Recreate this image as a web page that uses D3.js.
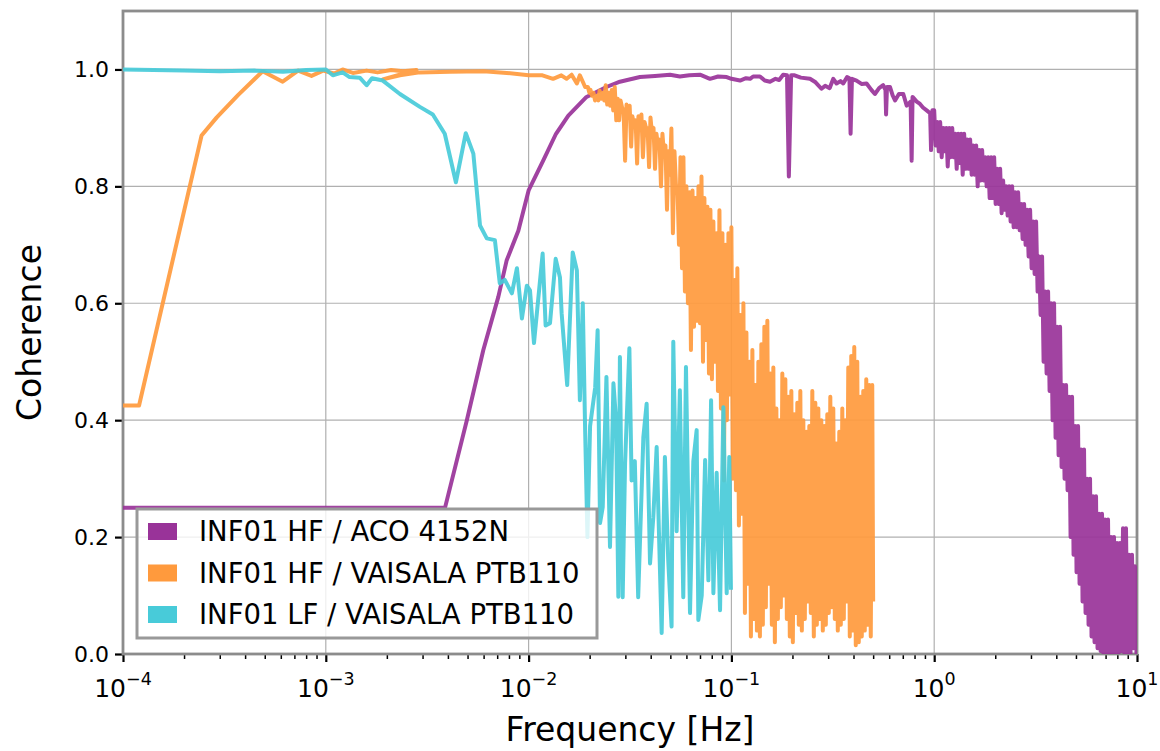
<!DOCTYPE html>
<html lang="en">
<head>
    <meta charset="UTF-8">
    <title>Coherence</title>

    <script src="https://d3js.org/d3.v7.min.js"></script>

    <style>
        body {
            margin: 0;
            background: #fff;
        }

        svg {
            display: block;
            font-family: "DejaVu Sans", sans-serif;
        }
    </style>

    <script>

        // INF01 HF / ACO 4152N
        let acoFreq = [
            1e-4, 3.87e-3, 4.96e-3, 5.98e-3, 7.09e-3, 7.79e-3, 8.9e-3, 1.0e-2, 1.18e-2, 1.365e-2,
            1.57e-2, 1.93e-2, 2.42e-2, 2.82e-2, 3.54e-2, 4.2e-2, 4.98e-2, 5.57e-2, 6.2e-2, 7.0e-2,
            7.84e-2, 8.6e-2, 9.48e-2, 0.1, 0.1103, 0.118, 0.1236, 0.128, 0.1383, 0.146,
            0.155, 0.165, 0.172, 0.180, 0.188, 0.192, 0.197, 0.205, 0.22, 0.244,
            0.26, 0.278, 0.29, 0.305, 0.318, 0.33, 0.345, 0.356, 0.372, 0.382,
            0.387, 0.393, 0.414, 0.44, 0.464, 0.49, 0.51, 0.535, 0.56, 0.575,
            0.579, 0.585, 0.605, 0.625, 0.641, 0.67, 0.704, 0.732, 0.765, 0.774,
            0.782, 0.82, 0.851, 0.88, 0.918, 0.955, 0.965, 0.98,
            1.000, 1.017, 1.035, 1.053, 1.070, 1.089, 1.108, 1.127, 1.146, 1.166,
            1.186, 1.206, 1.227, 1.248, 1.269, 1.291, 1.313, 1.336, 1.358, 1.382,
            1.405, 1.429, 1.454, 1.479, 1.504, 1.530, 1.556, 1.583, 1.610, 1.638,
            1.666, 1.695, 1.723, 1.753, 1.783, 1.814, 1.845, 1.877, 1.908, 1.941,
            1.975, 2.009, 2.043, 2.078, 2.114, 2.150, 2.187, 2.225, 2.263, 2.302,
            2.341, 2.381, 2.422, 2.464, 2.506, 2.549, 2.593, 2.638, 2.683, 2.729,
            2.775, 2.823, 2.871, 2.921, 2.971, 3.022, 3.074, 3.127, 3.180, 3.235,
            3.290, 3.347, 3.404, 3.463, 3.522, 3.583, 3.644, 3.707, 3.770, 3.835,
            3.900, 3.967, 4.035, 4.105, 4.175, 4.247, 4.320, 4.394, 4.469, 4.546,
            4.624, 4.704, 4.784, 4.866, 4.949, 5.034, 5.121, 5.209, 5.298, 5.389,
            5.481, 5.576, 5.671, 5.769, 5.867, 5.968, 6.070, 6.175, 6.280, 6.388,
            6.498, 6.610, 6.722, 6.838, 6.955, 7.075, 7.196, 7.320, 7.445, 7.573,
            7.702, 7.835, 7.969, 8.106, 8.245, 8.387, 8.530, 8.677, 8.825, 8.977,
            9.131, 9.288, 9.447, 9.610, 9.773, 9.942, 10
        ];
        let acoCoh = [
            0.25, 0.25, 0.40, 0.52, 0.611, 0.673, 0.724, 0.793, 0.844, 0.89,
            0.921, 0.953, 0.97, 0.979, 0.987, 0.989, 0.991, 0.988, 0.990, 0.991,
            0.984, 0.988, 0.987, 0.984, 0.981, 0.985, 0.984, 0.988, 0.988, 0.981,
            0.979, 0.984, 0.982, 0.991, 0.990, 0.817, 0.990, 0.99, 0.986, 0.984,
            0.978, 0.967, 0.972, 0.968, 0.984, 0.976, 0.98, 0.976, 0.987, 0.985,
            0.89, 0.984, 0.981, 0.975, 0.976, 0.965, 0.958, 0.968, 0.973, 0.965,
            0.923, 0.97, 0.97, 0.955, 0.947, 0.958, 0.958, 0.938, 0.945, 0.844,
            0.953, 0.945, 0.941, 0.935, 0.93, 0.925, 0.862, 0.93,
            0.93, 0.87, 0.91, 0.86, 0.91, 0.85, 0.90, 0.86, 0.90, 0.834,
            0.90, 0.85, 0.90, 0.85, 0.89, 0.83, 0.89, 0.84, 0.89, 0.82,
            0.89, 0.83, 0.88, 0.83, 0.88, 0.82, 0.87, 0.82, 0.87, 0.80,
            0.862, 0.81, 0.862, 0.81, 0.85, 0.80, 0.85, 0.78, 0.85, 0.78,
            0.85, 0.77, 0.83, 0.77, 0.83, 0.754, 0.81, 0.76, 0.80, 0.75,
            0.80, 0.74, 0.80, 0.73, 0.79, 0.73, 0.79, 0.725, 0.77, 0.71,
            0.77, 0.70, 0.76, 0.68, 0.76, 0.66, 0.74, 0.65, 0.74, 0.62,
            0.68, 0.58, 0.68, 0.50, 0.62, 0.48, 0.62, 0.45, 0.60, 0.40,
            0.60, 0.37, 0.56, 0.34, 0.56, 0.32, 0.46, 0.30, 0.46, 0.28,
            0.44, 0.20, 0.44, 0.17, 0.39, 0.14, 0.39, 0.12, 0.35, 0.09,
            0.35, 0.07, 0.30, 0.05, 0.30, 0.03, 0.27, 0.02, 0.27, 0.01,
            0.24, 0.005, 0.24, 0.0, 0.23, 0.0, 0.23, 0.0, 0.20, 0.0,
            0.20, 0.0, 0.19, 0.0, 0.19, 0.005, 0.215, 0.0, 0.215, 0.0,
            0.17, 0.0, 0.17, 0.01, 0.15, 0.0, 0.12
        ];

        // INF01 HF / VAISALA PTB110
        let hfFreq = [
            1e-4, 1.2e-4, 2.44e-4, 2.9e-4, 3.69e-4, 4.88e-4, 6.13e-4, 7.3e-4, 8.5e-4, 9.7e-4,
            1.1e-3, 1.21e-3, 1.36e-3, 1.59e-3, 1.8e-3, 2.1e-3, 2.4e-3, 2.8e-3,
            1.91e-3, 2.32e-3, 2.9e-3, 4.1e-3, 6.0e-3, 7.8e-3, 1.0e-2, 1.17e-2, 1.32e-2, 1.45e-2,
            1.54e-2, 1.63e-2, 1.73e-2, 1.79e-2, 1.90e-2,
            0.0196, 0.01994, 0.0202, 0.02055, 0.0209, 0.02126, 0.0217, 0.02207, 0.0224, 0.02279,
            0.0232, 0.0236, 0.0240, 0.02441, 0.0248, 0.02523, 0.0257, 0.02614, 0.0266, 0.02706,
            0.0275, 0.02797, 0.0284, 0.02889, 0.0294, 0.02991, 0.0304, 0.03092, 0.0315, 0.03204,
            0.0325, 0.03306, 0.0337, 0.03428, 0.0348, 0.0354, 0.0360, 0.03662, 0.0373, 0.03794,
            0.0386, 0.03927, 0.0399, 0.04059, 0.0413, 0.04201, 0.0427, 0.04344, 0.0442, 0.04496,
            0.0457, 0.04649, 0.0473, 0.04812, 0.0489, 0.04974, 0.0506, 0.05147, 0.0524, 0.0533,
            0.0542, 0.05514, 0.0561, 0.05707, 0.0580, 0.0590, 0.0600, 0.06104, 0.0621, 0.06317,
            0.0643, 0.06541, 0.0665, 0.06765, 0.0688, 0.06999, 0.0712, 0.07243, 0.0736, 0.07487,
            0.0762, 0.07751, 0.0788, 0.08016, 0.0815, 0.08291, 0.0844, 0.08586, 0.0873, 0.08881,
            0.0903, 0.09186, 0.0934, 0.09501, 0.0967, 0.09837,
            0.1000, 0.1017, 0.1035, 0.1053, 0.1070, 0.1089, 0.1108, 0.1127, 0.1146, 0.1166,
            0.1186, 0.1206, 0.1227, 0.1248, 0.1269, 0.1291, 0.1313, 0.1336, 0.1358, 0.1382,
            0.1405, 0.1429, 0.1454, 0.1479, 0.1504, 0.1530, 0.1556, 0.1583, 0.1610, 0.1638,
            0.1666, 0.1695, 0.1723, 0.1753, 0.1783, 0.1814, 0.1845, 0.1877, 0.1908, 0.1941,
            0.1975, 0.2009, 0.2043, 0.2078, 0.2114, 0.2150, 0.2187, 0.2225, 0.2263, 0.2302,
            0.2341, 0.2381, 0.2422, 0.2464, 0.2506, 0.2549, 0.2593, 0.2638, 0.2683, 0.2729,
            0.2775, 0.2823, 0.2871, 0.2921, 0.2971, 0.3022, 0.3074, 0.3127, 0.3180, 0.3235,
            0.3290, 0.3347, 0.3404, 0.3463, 0.3522, 0.3583, 0.3644, 0.3707, 0.3770, 0.3835,
            0.3900, 0.3967, 0.4035, 0.4105, 0.4175, 0.4247, 0.4320, 0.4394, 0.4469, 0.4546,
            0.4624, 0.4704, 0.4784, 0.4866, 0.4949, 0.5
        ];
        let hfCoh = [
            0.425, 0.425, 0.887, 0.918, 0.956, 0.997, 0.979, 0.998, 0.989, 0.998,
            0.993, 1.0, 0.994, 0.998, 0.995, 0.999, 0.997, 0.999,
            0.983, 0.99, 0.995, 0.996, 0.997, 0.994, 0.99, 0.99, 0.984, 0.99,
            0.984, 0.991, 0.976, 0.99, 0.97,
            0.97, 0.96, 0.965, 0.955, 0.96, 0.947, 0.955, 0.947, 0.964, 0.95,
            0.96, 0.947, 0.973, 0.94, 0.96, 0.938, 0.965, 0.93, 0.97, 0.913,
            0.95, 0.913, 0.947, 0.935, 0.93, 0.844, 0.94, 0.925, 0.938, 0.868,
            0.92, 0.905, 0.913, 0.839, 0.92, 0.90, 0.923, 0.85, 0.91, 0.90,
            0.90, 0.833, 0.918, 0.89, 0.90, 0.83, 0.89, 0.87, 0.88, 0.80,
            0.89, 0.856, 0.87, 0.76, 0.86, 0.82, 0.899, 0.72, 0.86, 0.80,
            0.80, 0.70, 0.85, 0.66, 0.85, 0.62, 0.80, 0.60, 0.79, 0.52,
            0.793, 0.56, 0.78, 0.57, 0.80, 0.566, 0.817, 0.50, 0.78, 0.537,
            0.765, 0.48, 0.76, 0.47, 0.74, 0.50, 0.72, 0.45, 0.759, 0.42,
            0.72, 0.297, 0.70, 0.40, 0.72, 0.444,
            0.73, 0.30, 0.64, 0.28, 0.66, 0.22, 0.58, 0.24, 0.60, 0.07,
            0.55, 0.12, 0.50, 0.03, 0.52, 0.06, 0.46, 0.04, 0.50, 0.03,
            0.53, 0.05, 0.56, 0.08, 0.57, 0.12, 0.48, 0.05, 0.49, 0.02,
            0.42, 0.06, 0.40, 0.08, 0.48, 0.10, 0.47, 0.06, 0.44, 0.03,
            0.45, 0.02, 0.41, 0.07, 0.43, 0.05, 0.45, 0.04, 0.40, 0.06,
            0.38, 0.09, 0.39, 0.07, 0.45, 0.03, 0.43, 0.05, 0.42, 0.06,
            0.40, 0.04, 0.39, 0.05, 0.41, 0.07, 0.44, 0.08, 0.42, 0.06,
            0.36, 0.04, 0.38, 0.05, 0.42, 0.06, 0.40, 0.09, 0.49, 0.03,
            0.51, 0.04, 0.525, 0.015, 0.50, 0.02, 0.44, 0.03, 0.45, 0.04,
            0.47, 0.05, 0.46, 0.03, 0.46, 0.09
        ];

        // INF01 LF / VAISALA PTB110
        let lfFreq = [
            1e-4, 2e-4, 3e-4, 4.5e-4, 6.15e-4, 8e-4, 1e-3, 1.083e-3, 1.21e-3, 1.31e-3,
            1.47e-3, 1.59e-3, 1.69e-3, 1.91e-3, 2.32e-3, 2.91e-3, 3.37e-3, 3.86e-3, 4.38e-3, 4.9e-3,
            5.34e-3, 5.76e-3, 6.22e-3, 6.82e-3, 7.21e-3, 7.63e-3, 8.27e-3, 8.76e-3, 9.27e-3, 9.8e-3,
            1.016e-2, 1.063e-2, 1.173e-2, 1.213e-2, 1.275e-2, 1.36e-2, 1.428e-2, 1.455e-2, 1.55e-2, 1.65e-2,
            1.73e-2, 1.79e-2, 1.85e-2, 1.90e-2, 1.95e-2, 2.01e-2, 2.13e-2, 2.19e-2, 2.25e-2, 2.32e-2,
            2.42e-2, 2.52e-2, 2.62e-2, 2.70e-2, 2.77e-2, 2.82e-2, 2.91e-2, 2.99e-2, 3.14e-2, 3.22e-2,
            3.34e-2, 3.47e-2, 3.68e-2, 3.82e-2, 3.97e-2, 4.12e-2, 4.28e-2, 4.53e-2, 4.70e-2, 4.88e-2,
            5.07e-2, 5.17e-2, 5.37e-2, 5.57e-2, 5.79e-2, 5.97e-2, 6.25e-2, 6.49e-2, 6.74e-2, 6.87e-2,
            7.14e-2, 7.42e-2, 7.70e-2, 7.94e-2, 8.15e-2, 8.46e-2, 8.79e-2, 9.13e-2, 9.48e-2, 9.76e-2,
            0.0995
        ];
        let lfCoh = [
            1.0, 0.998, 0.997, 0.998, 0.996, 0.999, 1.0, 0.99, 0.995, 0.987,
            0.986, 0.973, 0.985, 0.981, 0.958, 0.936, 0.923, 0.89, 0.807, 0.891,
            0.856, 0.733, 0.711, 0.708, 0.634, 0.64, 0.617, 0.66, 0.574, 0.63,
            0.622, 0.532, 0.685, 0.562, 0.566, 0.676, 0.644, 0.583, 0.46, 0.687,
            0.656, 0.434, 0.60, 0.383, 0.20, 0.39, 0.456, 0.554, 0.224, 0.251,
            0.474, 0.183, 0.463, 0.40, 0.098, 0.508, 0.097, 0.326, 0.523, 0.297,
            0.33, 0.097, 0.371, 0.428, 0.155, 0.234, 0.354, 0.036, 0.337, 0.161,
            0.047, 0.534, 0.21, 0.451, 0.097, 0.491, 0.07, 0.33, 0.383, 0.058,
            0.10, 0.332, 0.126, 0.434, 0.104, 0.31, 0.075, 0.422, 0.104, 0.337,
            0.11
        ];

        let legendLabels = ["INF01 HF / ACO 4152N", "INF01 HF / VAISALA PTB110", "INF01 LF / VAISALA PTB110"];
        let yTickValues = [0, 0.2, 0.4, 0.6, 0.8, 1.0];
        let xTickExponents = [-4, -3, -2, -1, 0, 1];

        const colors = ["#993399", "#ff9a3d", "#48cbd9"];

        let x, y, svg;

        document.addEventListener("DOMContentLoaded", function() {
            createGraph();
            drawLines();
            drawLegend();
        });

        function createGraph() {
            const margins = {top: 11, right: 23, bottom: 97, left: 123};
            const width = 1160;
            const height = 751;

            svg = d3.select("svg").attr("width", width).attr("height", height);

            x = d3.scaleLog().domain([1e-4, 10]).range([margins.left, width - margins.right]);
            y = d3.scaleLinear().domain([0, 1.1]).range([height - margins.bottom, margins.top]);

            svg.append("clipPath").attr("id", "plot-clip")
                .append("rect")
                .attr("x", x.range()[0]).attr("y", y.range()[1])
                .attr("width", x.range()[1] - x.range()[0])
                .attr("height", y.range()[0] - y.range()[1]);

            // grid
            const grid = svg.append("g").attr("stroke", "#b0b0b0").attr("stroke-width", 1.2);
            grid.selectAll(".gx").data(xTickExponents).join("line")
                .attr("x1", d => x(Math.pow(10, d))).attr("x2", d => x(Math.pow(10, d)))
                .attr("y1", y.range()[0]).attr("y2", y.range()[1]);
            grid.selectAll(".gy").data(yTickValues).join("line")
                .attr("x1", x.range()[0]).attr("x2", x.range()[1])
                .attr("y1", d => y(d)).attr("y2", d => y(d));

            // x axis, majors and minors
            let minor = x.ticks().filter(d => Math.abs(Math.log10(d) - Math.round(Math.log10(d))) > 1e-6);
            let xAxis = svg.append("g").attr("transform", `translate(0,${y.range()[0]})`);
            xAxis.call(d3.axisBottom(x).tickValues(minor).tickSize(5).tickFormat(""))
                .call(g => g.select(".domain").remove())
                .selectAll("line").attr("stroke", "#000").attr("stroke-width", 1.5);

            let xMajor = svg.append("g").attr("transform", `translate(0,${y.range()[0]})`);
            xMajor.call(d3.axisBottom(x).tickValues(xTickExponents.map(d => Math.pow(10, d))).tickSize(8).tickFormat(""))
                .call(g => g.select(".domain").remove())
                .selectAll("line").attr("stroke", "#000").attr("stroke-width", 2.2);

            let xLabels = svg.append("g").selectAll("text").data(xTickExponents).join("text")
                .attr("x", d => x(Math.pow(10, d)))
                .attr("y", 697)
                .attr("text-anchor", "middle")
                .attr("font-size", 25)
                .attr("fill", "#000");
            xLabels.append("tspan").text("10");
            xLabels.append("tspan")
                .attr("font-size", 17.5)
                .attr("dy", -12)
                .text(d => (d < 0 ? "\u2212" : "") + Math.abs(d));

            // y axis
            let yAxis = svg.append("g").attr("transform", `translate(${x.range()[0]},0)`);
            yAxis.call(d3.axisLeft(y).tickValues(yTickValues).tickSize(8).tickPadding(6).tickFormat(d3.format(".1f")))
                .call(g => g.select(".domain").remove())
                .call(g => g.selectAll("line").attr("stroke", "#000").attr("stroke-width", 2.2))
                .call(g => g.selectAll("text").attr("font-size", 22).attr("fill", "#000")
                    .attr("font-family", "DejaVu Sans"));

            // frame
            svg.append("rect")
                .attr("x", x.range()[0]).attr("y", y.range()[1])
                .attr("width", x.range()[1] - x.range()[0])
                .attr("height", y.range()[0] - y.range()[1])
                .attr("fill", "none")
                .attr("stroke", "#8c8c8c")
                .attr("stroke-width", 2.8);

            svg.append("text")
                .attr("x", (x.range()[0] + x.range()[1]) / 2)
                .attr("y", 741)
                .attr("text-anchor", "middle")
                .attr("font-size", 33)
                .text("Frequency [Hz]");

            svg.append("text")
                .attr("transform", `translate(41,${(y.range()[0] + y.range()[1]) / 2}) rotate(-90)`)
                .attr("text-anchor", "middle")
                .attr("font-size", 33)
                .text("Coherence");
        }

        function drawLines() {
            let series = [
                acoFreq.map((f, i) => ({f: f, c: acoCoh[i]})),
                hfFreq.map((f, i) => ({f: f, c: hfCoh[i]})),
                lfFreq.map((f, i) => ({f: f, c: lfCoh[i]}))
            ];

            const line = d3.line()
                .x(function(d) { return x(d.f); })
                .y(function(d) { return y(d.c); });

            svg.append("g").attr("clip-path", "url(#plot-clip)")
                .selectAll(".line")
                .data(series)
                .join("path")
                .attr("class", "line")
                .attr("d", line)
                .attr("fill", "none")
                .attr("stroke", (d, i) => colors[i])
                .attr("stroke-opacity", 0.92)
                .attr("stroke-width", 4)
                .attr("stroke-linejoin", "round");
        }

        function drawLegend() {
            let legend = svg.append("g");
            legend.append("rect")
                .attr("x", 137).attr("y", 509)
                .attr("width", 460).attr("height", 129)
                .attr("fill", "#fff").attr("fill-opacity", 0.8)
                .attr("stroke", "#999").attr("stroke-width", 3);

            let items = legend.selectAll(".item").data(legendLabels).join("g")
                .attr("transform", (d, i) => `translate(148,${523 + i * 41.5})`);
            items.append("rect")
                .attr("width", 29).attr("height", 17)
                .attr("fill", (d, i) => colors[i]);
            items.append("text")
                .attr("x", 51).attr("y", 18)
                .attr("font-size", 27.5)
                .text(d => d);
        }

    </script>
</head>
<body>
    <svg></svg>
</body>
</html>
